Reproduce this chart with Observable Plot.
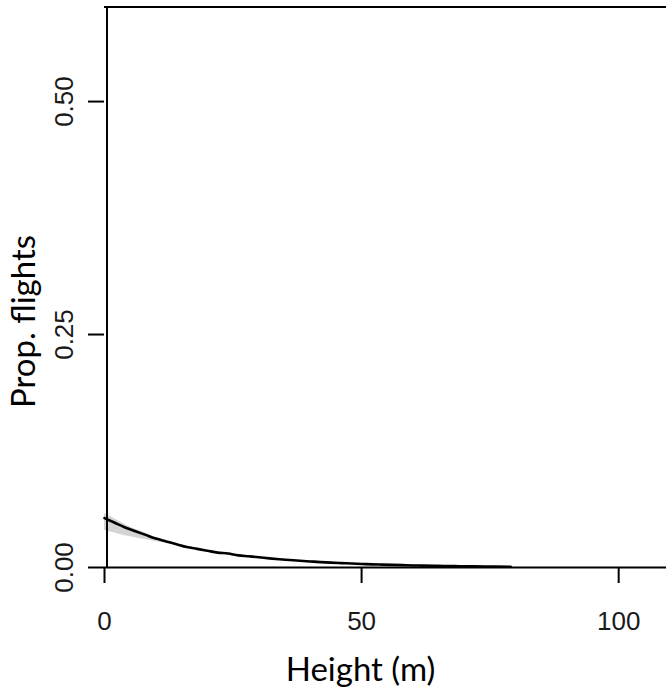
<!DOCTYPE html>
<html>
<head>
<meta charset="utf-8">
<script src="https://cdn.jsdelivr.net/npm/d3@7"></script>
<script src="https://cdn.jsdelivr.net/npm/@observablehq/plot@0.6"></script>
<style>
  html, body { margin: 0; padding: 0; background: #fff; }
  #chart { width: 666px; height: 690px; overflow: hidden; }
</style>
</head>
<body>
<div id="chart"></div>
<script>
const heights = [0,2,4,6,8,10,12,14,16,18,20,22,24,26,28,30,32,34,36,38,40,42,44,46,48,50,52,54,56,58,60,62,64,66,68,70,72,74,76,79];
const propFlights = [0.053,0.048,0.043,0.039,0.035,0.031,0.028,0.025,0.022,0.020,0.018,0.016,0.015,0.013,0.012,0.011,0.0098,0.0088,0.0080,0.0072,0.0065,0.0058,0.0052,0.0047,0.0043,0.0038,0.0034,0.0031,0.0028,0.0025,0.0022,0.0020,0.0018,0.0016,0.0015,0.0013,0.0012,0.0011,0.0010,0.0008];
const lowerCI = [0.040,0.037,0.034,0.032,0.030,0.028,0.026,0.0237,0.021,0.0192,0.0173,0.0154,0.0143,0.0124,0.0114,0.0104,0.0093,0.0083,0.0075,0.0068,0.0061,0.0054,0.0048,0.0043,0.0038,0.0033,0.0029,0.0026,0.0023,0.0021,0.0018,0.0016,0.0015,0.0013,0.0012,0.0011,0.0010,0.0009,0.0008,0.0007];
const upperCI = [0.058,0.052,0.046,0.041,0.037,0.032,0.0290,0.0260,0.0228,0.0207,0.0186,0.0166,0.0155,0.0135,0.0125,0.0115,0.0102,0.0092,0.0084,0.0076,0.0069,0.0062,0.0056,0.0051,0.0048,0.0043,0.0039,0.0036,0.0032,0.0029,0.0026,0.0023,0.0021,0.0019,0.0017,0.0015,0.0014,0.0012,0.0011,0.0009];
const xTicks = [0, 50, 100];
const yTicks = [0, 0.25, 0.5];
const xLabel = "Height (m)";
const yLabel = "Prop. flights";

const data = heights.map((h, i) => ({h, p: propFlights[i], lo: lowerCI[i], hi: upperCI[i]}));

const tickFont = "'Liberation Sans', Arial, sans-serif";
const titleFont = "Lato, 'Open Sans', sans-serif";

const chart = Plot.plot({
  width: 666,
  height: 690,
  marginLeft: 104,
  marginRight: 0,
  marginTop: 6,
  marginBottom: 123,
  style: {background: "#fff", overflow: "visible"},
  x: {domain: [0, 109.3], axis: null, label: null},
  y: {domain: [0, 0.602], axis: null, label: null},
  marks: [
    Plot.areaY(data, {x: "h", y1: "lo", y2: "hi", fill: "#d4d4d4", curve: "monotone-x"}),
    Plot.lineY(data, {x: "h", y: "p", stroke: "#000", strokeWidth: 2.6, curve: "monotone-x"}),
    Plot.ruleX([0], {y1: 0, y2: 0.602, stroke: "#000", strokeWidth: 2, dx: 2.5}),
    Plot.ruleY([0.602], {stroke: "#000", strokeWidth: 2, dy: 0.5}),
    Plot.ruleY([0], {stroke: "#000", strokeWidth: 2}),
    Plot.axisX(xTicks, {label: null, tickSize: 16, strokeWidth: 2, stroke: "#000", tickPadding: 28, fontSize: 26, fill: "#1a1a1a", fontFamily: tickFont, tickFormat: d3.format("d")}),
    Plot.axisY(yTicks, {label: null, tickSize: 16, strokeWidth: 2, stroke: "#000", tickFormat: () => ""}),
    Plot.text(yTicks, {y: d => d, text: d => d3.format(".2f")(d), frameAnchor: "left", dx: -32, rotate: -90, fontSize: 26, fill: "#1a1a1a", fontFamily: tickFont, textAnchor: "middle", lineAnchor: "bottom"}),
    Plot.text([yLabel], {frameAnchor: "top-left", dx: -70, dy: 315, rotate: -90, fontSize: 33, fill: "#000", fontFamily: titleFont, textAnchor: "middle", lineAnchor: "bottom"}),
    Plot.text([xLabel], {frameAnchor: "bottom-left", dx: 256, dy: 113, fontSize: 33, fill: "#000", fontFamily: titleFont, textAnchor: "middle", lineAnchor: "bottom"})
  ]
});
document.getElementById("chart").appendChild(chart);
</script>
</body>
</html>
